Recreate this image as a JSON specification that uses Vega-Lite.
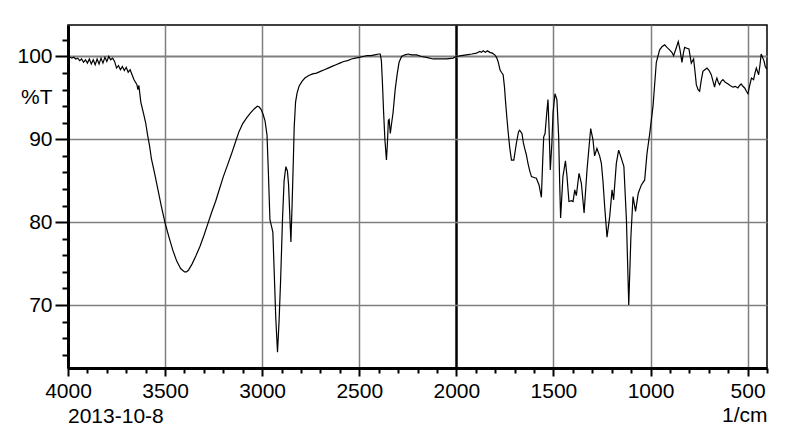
{
  "$schema": "https://vega.github.io/schema/vega-lite/v6.json",
  "width": 699,
  "height": 343,
  "autosize": {"type": "none"},
  "padding": {"left": 68, "top": 25, "right": 23, "bottom": 67},
  "background": "white",
  "title": {"text": "2013-10-8", "orient": "bottom", "anchor": "start", "frame": "group", "offset": -19, "font": "Liberation Sans", "fontSize": 21, "fontWeight": "normal", "color": "black"},
  "config": {
    "view": {"stroke": "black", "strokeWidth": 1.5},
    "axis": {"labelFont": "Liberation Sans", "titleFont": "Liberation Sans", "labelColor": "black", "titleColor": "black", "domainColor": "black", "tickColor": "black"}
  },
  "data": {"values": [
    {"wn": 4000, "t": 100.0}, {"wn": 3990, "t": 99.9}, {"wn": 3980, "t": 99.8}, {"wn": 3970, "t": 99.9}, {"wn": 3960, "t": 99.7},
    {"wn": 3950, "t": 99.8}, {"wn": 3940, "t": 99.5}, {"wn": 3930, "t": 99.7}, {"wn": 3920, "t": 99.3}, {"wn": 3910, "t": 99.6},
    {"wn": 3900, "t": 99.2}, {"wn": 3890, "t": 99.7}, {"wn": 3880, "t": 99.1}, {"wn": 3870, "t": 99.6}, {"wn": 3860, "t": 99.0},
    {"wn": 3850, "t": 99.7}, {"wn": 3840, "t": 99.1}, {"wn": 3830, "t": 99.8}, {"wn": 3820, "t": 99.2}, {"wn": 3810, "t": 99.9},
    {"wn": 3800, "t": 99.4}, {"wn": 3790, "t": 100.0}, {"wn": 3780, "t": 99.6}, {"wn": 3770, "t": 99.8}, {"wn": 3760, "t": 99.4},
    {"wn": 3750, "t": 98.6}, {"wn": 3740, "t": 98.9}, {"wn": 3730, "t": 98.4}, {"wn": 3720, "t": 98.8}, {"wn": 3710, "t": 98.3},
    {"wn": 3700, "t": 98.7}, {"wn": 3690, "t": 98.1}, {"wn": 3680, "t": 98.4}, {"wn": 3670, "t": 97.8}, {"wn": 3660, "t": 97.2},
    {"wn": 3650, "t": 96.8}, {"wn": 3645, "t": 96.6}, {"wn": 3640, "t": 96.0}, {"wn": 3635, "t": 96.5}, {"wn": 3625, "t": 94.5},
    {"wn": 3610, "t": 93.0}, {"wn": 3600, "t": 92.0}, {"wn": 3590, "t": 90.5}, {"wn": 3580, "t": 89.2}, {"wn": 3570, "t": 87.6},
    {"wn": 3555, "t": 86.0}, {"wn": 3540, "t": 84.3}, {"wn": 3520, "t": 82.0}, {"wn": 3500, "t": 79.9}, {"wn": 3480, "t": 78.2},
    {"wn": 3460, "t": 76.6}, {"wn": 3440, "t": 75.3}, {"wn": 3420, "t": 74.4}, {"wn": 3400, "t": 74.0}, {"wn": 3390, "t": 74.0},
    {"wn": 3380, "t": 74.2}, {"wn": 3360, "t": 75.0}, {"wn": 3340, "t": 76.0}, {"wn": 3320, "t": 77.1}, {"wn": 3300, "t": 78.4},
    {"wn": 3280, "t": 79.8}, {"wn": 3260, "t": 81.2}, {"wn": 3240, "t": 82.5}, {"wn": 3220, "t": 84.0}, {"wn": 3200, "t": 85.5},
    {"wn": 3180, "t": 86.8}, {"wn": 3160, "t": 88.1}, {"wn": 3140, "t": 89.5}, {"wn": 3120, "t": 90.9}, {"wn": 3100, "t": 91.9},
    {"wn": 3080, "t": 92.6}, {"wn": 3060, "t": 93.2}, {"wn": 3040, "t": 93.7}, {"wn": 3025, "t": 94.0}, {"wn": 3015, "t": 93.9},
    {"wn": 3005, "t": 93.6}, {"wn": 2995, "t": 93.0}, {"wn": 2985, "t": 92.2}, {"wn": 2975, "t": 90.5}, {"wn": 2968, "t": 86.0},
    {"wn": 2960, "t": 80.3}, {"wn": 2950, "t": 79.3}, {"wn": 2945, "t": 78.8}, {"wn": 2938, "t": 74.0}, {"wn": 2930, "t": 68.5},
    {"wn": 2921, "t": 64.3}, {"wn": 2913, "t": 68.0}, {"wn": 2905, "t": 73.0}, {"wn": 2895, "t": 80.5}, {"wn": 2887, "t": 85.0},
    {"wn": 2878, "t": 86.7}, {"wn": 2870, "t": 86.2}, {"wn": 2864, "t": 84.5}, {"wn": 2858, "t": 81.0}, {"wn": 2852, "t": 77.6},
    {"wn": 2846, "t": 82.0}, {"wn": 2840, "t": 87.0}, {"wn": 2835, "t": 91.5}, {"wn": 2828, "t": 94.5}, {"wn": 2820, "t": 95.6},
    {"wn": 2810, "t": 96.4}, {"wn": 2795, "t": 97.0}, {"wn": 2780, "t": 97.4}, {"wn": 2760, "t": 97.7}, {"wn": 2740, "t": 97.9},
    {"wn": 2720, "t": 98.0}, {"wn": 2700, "t": 98.2}, {"wn": 2680, "t": 98.4}, {"wn": 2660, "t": 98.6}, {"wn": 2640, "t": 98.8},
    {"wn": 2620, "t": 99.0}, {"wn": 2600, "t": 99.2}, {"wn": 2580, "t": 99.4}, {"wn": 2560, "t": 99.5}, {"wn": 2540, "t": 99.7},
    {"wn": 2520, "t": 99.8}, {"wn": 2500, "t": 99.9}, {"wn": 2480, "t": 100.0}, {"wn": 2460, "t": 100.1}, {"wn": 2440, "t": 100.1},
    {"wn": 2420, "t": 100.2}, {"wn": 2400, "t": 100.3}, {"wn": 2392, "t": 100.3}, {"wn": 2386, "t": 99.5}, {"wn": 2380, "t": 96.5},
    {"wn": 2375, "t": 93.5}, {"wn": 2368, "t": 90.0}, {"wn": 2360, "t": 87.5}, {"wn": 2355, "t": 89.5}, {"wn": 2350, "t": 92.3},
    {"wn": 2346, "t": 92.4}, {"wn": 2340, "t": 90.7}, {"wn": 2333, "t": 92.0}, {"wn": 2326, "t": 93.2}, {"wn": 2315, "t": 96.0},
    {"wn": 2305, "t": 97.8}, {"wn": 2295, "t": 99.3}, {"wn": 2282, "t": 100.0}, {"wn": 2265, "t": 100.2}, {"wn": 2248, "t": 100.3},
    {"wn": 2230, "t": 100.2}, {"wn": 2205, "t": 100.2}, {"wn": 2180, "t": 100.0}, {"wn": 2154, "t": 99.9}, {"wn": 2120, "t": 99.7},
    {"wn": 2085, "t": 99.7}, {"wn": 2050, "t": 99.7}, {"wn": 2017, "t": 99.8}, {"wn": 2000, "t": 100.0}, {"wn": 1975, "t": 100.1},
    {"wn": 1948, "t": 100.2}, {"wn": 1920, "t": 100.3}, {"wn": 1896, "t": 100.4}, {"wn": 1880, "t": 100.6}, {"wn": 1870, "t": 100.5},
    {"wn": 1862, "t": 100.7}, {"wn": 1850, "t": 100.5}, {"wn": 1840, "t": 100.7}, {"wn": 1828, "t": 100.5}, {"wn": 1815, "t": 100.4},
    {"wn": 1802, "t": 100.2}, {"wn": 1793, "t": 99.9}, {"wn": 1785, "t": 99.4}, {"wn": 1775, "t": 98.4}, {"wn": 1768, "t": 98.1},
    {"wn": 1759, "t": 97.8}, {"wn": 1752, "t": 96.3}, {"wn": 1746, "t": 94.4}, {"wn": 1740, "t": 92.7}, {"wn": 1734, "t": 91.1},
    {"wn": 1725, "t": 89.0}, {"wn": 1716, "t": 87.5}, {"wn": 1704, "t": 87.5}, {"wn": 1691, "t": 89.5}, {"wn": 1680, "t": 90.9},
    {"wn": 1674, "t": 91.1}, {"wn": 1662, "t": 90.7}, {"wn": 1655, "t": 89.6}, {"wn": 1648, "t": 88.9}, {"wn": 1640, "t": 88.2},
    {"wn": 1631, "t": 87.1}, {"wn": 1622, "t": 86.2}, {"wn": 1613, "t": 85.5}, {"wn": 1600, "t": 85.4}, {"wn": 1588, "t": 85.3},
    {"wn": 1574, "t": 84.5}, {"wn": 1562, "t": 83.0}, {"wn": 1555, "t": 87.5}, {"wn": 1550, "t": 90.3}, {"wn": 1543, "t": 90.7},
    {"wn": 1535, "t": 93.0}, {"wn": 1528, "t": 94.8}, {"wn": 1522, "t": 91.0}, {"wn": 1516, "t": 86.3}, {"wn": 1508, "t": 89.5},
    {"wn": 1502, "t": 93.2}, {"wn": 1492, "t": 95.5}, {"wn": 1482, "t": 94.8}, {"wn": 1473, "t": 90.3}, {"wn": 1468, "t": 85.0},
    {"wn": 1463, "t": 80.5}, {"wn": 1451, "t": 85.5}, {"wn": 1438, "t": 87.4}, {"wn": 1430, "t": 85.5}, {"wn": 1420, "t": 82.5},
    {"wn": 1407, "t": 82.6}, {"wn": 1399, "t": 82.5}, {"wn": 1390, "t": 83.9}, {"wn": 1382, "t": 83.2}, {"wn": 1368, "t": 85.9},
    {"wn": 1356, "t": 84.7}, {"wn": 1342, "t": 81.1}, {"wn": 1327, "t": 86.3}, {"wn": 1315, "t": 89.5}, {"wn": 1308, "t": 91.3},
    {"wn": 1296, "t": 89.9}, {"wn": 1288, "t": 88.0}, {"wn": 1276, "t": 88.9}, {"wn": 1262, "t": 88.0}, {"wn": 1253, "t": 87.1},
    {"wn": 1245, "t": 85.0}, {"wn": 1236, "t": 81.9}, {"wn": 1224, "t": 78.2}, {"wn": 1210, "t": 80.7}, {"wn": 1198, "t": 83.9},
    {"wn": 1190, "t": 82.7}, {"wn": 1176, "t": 87.1}, {"wn": 1164, "t": 88.7}, {"wn": 1150, "t": 87.7}, {"wn": 1137, "t": 86.7},
    {"wn": 1124, "t": 80.3}, {"wn": 1112, "t": 70.0}, {"wn": 1101, "t": 78.2}, {"wn": 1090, "t": 83.1}, {"wn": 1077, "t": 81.3},
    {"wn": 1063, "t": 83.5}, {"wn": 1047, "t": 84.5}, {"wn": 1030, "t": 85.1}, {"wn": 1018, "t": 88.3}, {"wn": 1004, "t": 90.7},
    {"wn": 987, "t": 94.0}, {"wn": 970, "t": 99.3}, {"wn": 953, "t": 100.8}, {"wn": 940, "t": 101.2}, {"wn": 927, "t": 101.4},
    {"wn": 915, "t": 101.1}, {"wn": 902, "t": 100.8}, {"wn": 890, "t": 100.5}, {"wn": 881, "t": 100.1}, {"wn": 868, "t": 101.0},
    {"wn": 857, "t": 101.8}, {"wn": 848, "t": 100.8}, {"wn": 838, "t": 99.3}, {"wn": 830, "t": 100.5}, {"wn": 824, "t": 101.1},
    {"wn": 813, "t": 101.0}, {"wn": 802, "t": 100.9}, {"wn": 790, "t": 99.2}, {"wn": 778, "t": 99.7}, {"wn": 770, "t": 98.0},
    {"wn": 764, "t": 96.6}, {"wn": 755, "t": 96.0}, {"wn": 747, "t": 95.8}, {"wn": 738, "t": 97.2}, {"wn": 730, "t": 98.2},
    {"wn": 720, "t": 98.4}, {"wn": 709, "t": 98.6}, {"wn": 698, "t": 98.3}, {"wn": 687, "t": 97.8}, {"wn": 678, "t": 97.0},
    {"wn": 670, "t": 96.3}, {"wn": 664, "t": 97.0}, {"wn": 658, "t": 97.4}, {"wn": 651, "t": 96.9}, {"wn": 644, "t": 96.6},
    {"wn": 636, "t": 97.0}, {"wn": 627, "t": 97.2}, {"wn": 615, "t": 96.9}, {"wn": 602, "t": 96.7}, {"wn": 590, "t": 96.5},
    {"wn": 576, "t": 96.3}, {"wn": 563, "t": 96.4}, {"wn": 550, "t": 96.2}, {"wn": 541, "t": 96.5}, {"wn": 533, "t": 96.7},
    {"wn": 524, "t": 96.4}, {"wn": 515, "t": 96.2}, {"wn": 506, "t": 95.8}, {"wn": 498, "t": 95.5}, {"wn": 489, "t": 96.5},
    {"wn": 480, "t": 97.4}, {"wn": 469, "t": 97.2}, {"wn": 462, "t": 98.0}, {"wn": 455, "t": 98.6}, {"wn": 443, "t": 97.8},
    {"wn": 436, "t": 99.0}, {"wn": 430, "t": 100.3}, {"wn": 416, "t": 99.5}, {"wn": 409, "t": 98.8}, {"wn": 402, "t": 98.5}
  ]},
  "mark": {"type": "line", "color": "black", "strokeWidth": 1.2, "clip": true},
  "encoding": {
    "x": {
      "field": "wn", "type": "quantitative",
      "scale": {"domain": [400, 4000], "reverse": true, "nice": false, "zero": false},
      "axis": {
        "values": [400,500,600,700,800,900,1000,1100,1200,1300,1400,1500,1600,1700,1800,1900,2000,2100,2200,2300,2400,2500,2600,2700,2800,2900,3000,3100,3200,3300,3400,3500,3600,3700,3800,3900,4000],
        "format": "d",
        "labelExpr": "datum.value % 500 === 0 ? datum.label : ''",
        "labelFontSize": 21, "labelPadding": 4, "labelOverlap": false, "labelFlush": false, "labelBound": false,
        "tickSize": {"condition": {"test": "datum.value % 500 === 0", "value": 8}, "value": 5},
        "tickWidth": 2,
        "domainWidth": 3,
        "grid": true,
        "gridOpacity": {"condition": {"test": "datum.value % 500 === 0", "value": 1}, "value": 0},
        "gridColor": {"condition": {"test": "datum.value === 2000", "value": "black"}, "value": "#7f7f7f"},
        "gridWidth": {"condition": {"test": "datum.value === 2000", "value": 2.5}, "value": 1.5},
        "title": "1/cm", "titleFontSize": 21, "titleFontWeight": "normal", "titleAnchor": "start", "titleAlign": "right", "titlePadding": 3
      }
    },
    "y": {
      "field": "t", "type": "quantitative",
      "scale": {"domain": [62.4, 103.8], "nice": false, "zero": false},
      "axis": {
        "values": [64,66,68,70,72,74,76,78,80,82,84,86,88,90,92,94,95,96,98,100,102],
        "labelExpr": "datum.value % 10 === 0 ? datum.label : (datum.value === 95 ? '%T' : '')",
        "labelFontSize": 21, "labelPadding": 3, "labelOverlap": false, "labelBound": false, "labelFlush": false,
        "tickSize": {"condition": {"test": "datum.value % 10 === 0 || datum.value === 95", "value": 13}, "value": 6},
        "tickOpacity": {"condition": {"test": "datum.value === 95", "value": 0}, "value": 1},
        "tickWidth": 2,
        "domainWidth": 3,
        "grid": true,
        "gridOpacity": {"condition": {"test": "datum.value % 10 === 0", "value": 1}, "value": 0},
        "gridColor": "#7f7f7f",
        "gridWidth": {"condition": {"test": "datum.value === 100", "value": 2}, "value": 1.5},
        "title": null
      }
    }
  }
}
